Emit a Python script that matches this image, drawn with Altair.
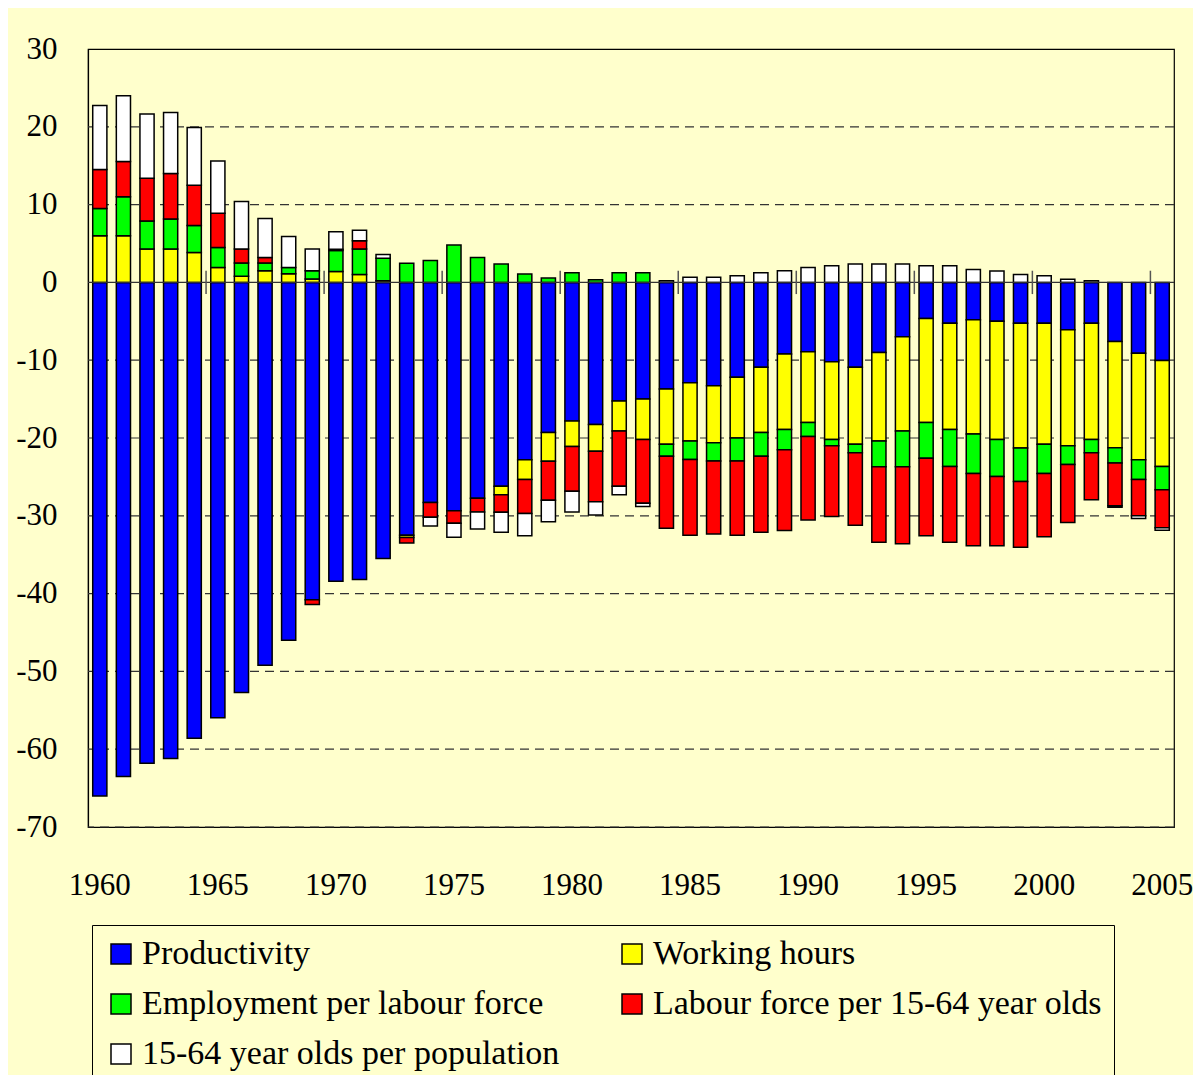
import altair as alt
import pandas as pd

years = list(range(1960, 2006))
label_years = list(range(1960, 2006, 5))
tick_years = list(range(1965, 2006, 5))

series_names = [
    "Productivity",
    "Working hours",
    "Employment per labour force",
    "Labour force per 15-64 year olds",
    "15-64 year olds per population",
]
series_colors = ["#0000FF", "#FFFF00", "#00FF00", "#FF0000", "#FFFFFF"]
# legend fills column by column: this order gives the reference's row layout
legend_order = [0, 2, 4, 1, 3]

productivity = [
    -66.0, -63.5, -61.8, -61.2, -58.6, -55.95, -52.7, -49.2, -46.0, -40.8,
    -38.4, -38.2, -35.5, -32.5, -28.3, -29.35, -27.75, -26.2, -22.8, -19.3,
    -17.8, -18.25, -15.25, -15.0, -13.7, -12.9, -13.3, -12.2, -10.9, -9.2,
    -8.9, -10.2, -10.9, -9.0, -7.0, -4.65, -5.25, -4.8, -5.0, -5.25,
    -5.25, -6.1, -5.25, -7.6, -9.1, -10.05,
]
working_hours = [
    6.0, 6.0, 4.3, 4.3, 3.85, 1.9, 0.8, 1.5, 1.1, 0.45,
    1.4, 1.0, 0.2, -0.3, 0.0, 0.0, 0.0, -1.1, -2.55, -3.7,
    -3.3, -3.45, -3.85, -5.2, -7.1, -7.5, -7.3, -7.8, -8.4, -9.7,
    -9.1, -10.0, -9.9, -11.4, -12.1, -13.35, -13.65, -14.7, -15.2, -16.05,
    -15.55, -14.9, -14.95, -13.65, -13.7, -13.6,
]
employment = [
    3.5, 5.0, 3.6, 3.85, 3.45, 2.6, 1.7, 1.0, 0.8, 1.05,
    2.7, 3.3, 2.9, 2.45, 2.8, 4.8, 3.2, 2.36, 1.07, 0.55,
    1.25, 0.35, 1.25, 1.25, -1.55, -2.35, -2.35, -2.95, -3.05, -2.6,
    -1.8, -0.8, -1.1, -3.3, -4.6, -4.6, -4.75, -5.05, -4.75, -4.3,
    -3.75, -2.4, -1.7, -1.95, -2.55, -3.0,
]
labour_force = [
    5.0, 4.55, 5.5, 5.85, 5.2, 4.4, 1.8, 0.7, 0.0, -0.6,
    0.15, 1.05, 0.0, -0.7, -1.9, -1.6, -1.75, -2.25, -4.35, -5.0,
    -5.75, -6.5, -7.1, -8.2, -9.25, -9.75, -9.4, -9.55, -9.75, -10.4,
    -10.75, -9.1, -9.3, -9.7, -9.9, -9.95, -9.75, -9.3, -8.9, -8.45,
    -8.15, -7.45, -6.05, -5.5, -4.65, -4.9,
]
pop_15_64 = [
    8.25, 8.45, 8.25, 7.85, 7.4, 6.7, 6.1, 5.0, 4.0, 2.8,
    2.25, 1.35, 0.5, 0.0, -1.1, -1.8, -2.2, -2.55, -2.85, -2.75,
    -2.65, -1.7, -1.1, -0.4, 0.2, 0.65, 0.65, 0.85, 1.25, 1.5,
    1.93, 2.15, 2.35, 2.35, 2.35, 2.15, 2.15, 1.67, 1.46, 1.03,
    0.86, 0.4, 0.2, -0.2, -0.35, -0.3,
]

grid_values = [-70, -60, -50, -40, -30, -20, -10, 10, 20]
y_ticks = [-70, -60, -50, -40, -30, -20, -10, 0, 10, 20, 30]

all_series = [productivity, working_hours, employment, labour_force, pop_15_64]
rows = []
for i, yr in enumerate(years):
    for k, (name, vals) in enumerate(zip(series_names, all_series)):
        v = vals[i]
        if v != 0:
            rows.append({"year": yr, "series": name, "order": k, "value": v})
df = pd.DataFrame(rows)

grid_df = pd.DataFrame({"g": grid_values})
zero_df = pd.DataFrame({"g": [0]})
tick_df = pd.DataFrame({"year": tick_years, "lo": [-1.5] * len(tick_years), "hi": [1.5] * len(tick_years)})

FONT = "Liberation Serif"

x_scale = alt.Scale(domain=years, paddingInner=0.4, paddingOuter=0.2)
y_scale = alt.Scale(domain=[-70, 30], nice=False, zero=False)

x_axis = alt.Axis(
    values=label_years, title=None, ticks=False, tickSize=0, domain=False,
    labelAngle=0, labelFont=FONT, labelFontSize=31, labelColor="black",
    labelBaseline="middle", labelPadding=58, labelOverlap=False, labelBound=False,
)
y_axis = alt.Axis(
    values=y_ticks, title=None, ticks=False, tickSize=0, grid=False,
    domain=True, domainColor="black", domainWidth=1.2,
    labelFont=FONT, labelFontSize=31, labelColor="black", labelPadding=31,
    labelExpr="'' + datum.value",
    minExtent=72, maxExtent=72,
)

grid = alt.Chart(grid_df).mark_rule(strokeDash=[9, 6], color="#333333", strokeWidth=1.2).encode(
    y=alt.Y("g:Q", scale=y_scale, axis=y_axis)
)

bars = alt.Chart(df).mark_bar(stroke="black", strokeWidth=1.5).encode(
    x=alt.X("year:O", scale=x_scale, axis=x_axis),
    y=alt.Y("value:Q", stack="zero", scale=y_scale, axis=y_axis),
    color=alt.Color(
        "series:N",
        scale=alt.Scale(
            domain=[series_names[k] for k in legend_order],
            range=[series_colors[k] for k in legend_order],
        ),
        legend=alt.Legend(
            title=None, orient="none", legendX=4, legendY=876, columns=2,
            symbolType="square", symbolSize=400, symbolStrokeColor="black",
            symbolStrokeWidth=1.5, labelFont=FONT, labelFontSize=34,
            labelColor="black", labelOffset=4, rowPadding=16, columnPadding=55,
            padding=12, strokeColor="black", labelLimit=700,
        ),
    ),
    order=alt.Order("order:Q", sort="ascending"),
)

zero = alt.Chart(zero_df).mark_rule(color="#333333", strokeWidth=1.3).encode(
    y=alt.Y("g:Q", scale=y_scale, axis=y_axis)
)

ticks = alt.Chart(tick_df).mark_rule(color="#555555", strokeWidth=1.5, xOffset=-4.7).encode(
    x=alt.X("year:O", scale=x_scale, axis=x_axis, bandPosition=0),
    y=alt.Y("lo:Q", scale=y_scale, axis=y_axis),
    y2="hi:Q",
)

chart = alt.layer(grid, bars, zero, ticks).properties(
    width=1086,
    height=778,
    autosize=alt.AutoSizeParams(type="none"),
    padding={"left": 80, "top": 41, "right": 19, "bottom": 248},
    background="#FFFFCC",
).configure_view(
    stroke="black", strokeWidth=1.2, fill="#FFFFCC"
).configure_axis(
    labelFont=FONT
).configure_legend(
    labelFont=FONT
)

chart.save("out.html", embed_options={"renderer": "svg", "actions": False})
